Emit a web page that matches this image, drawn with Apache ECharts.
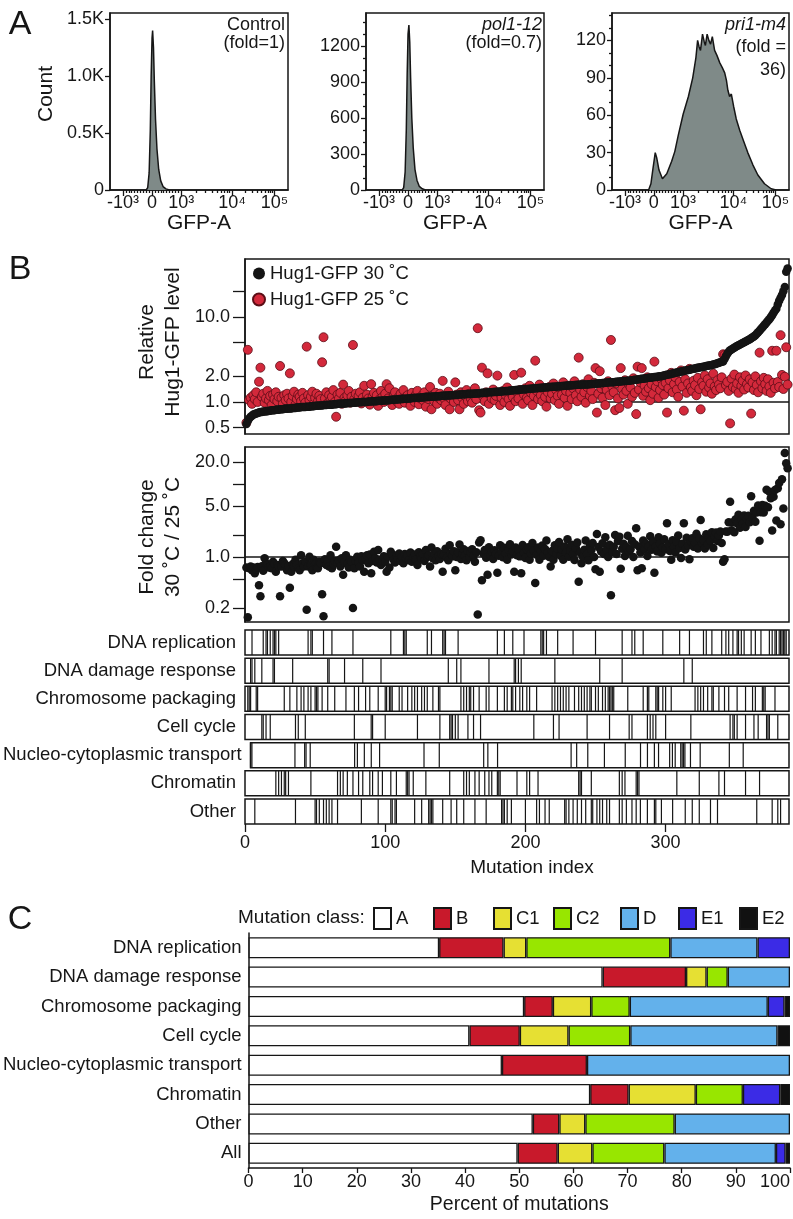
<!DOCTYPE html>
<html><head><meta charset="utf-8">
<script src="https://cdn.jsdelivr.net/npm/echarts@6/dist/echarts.min.js"></script>
<style>html,body{margin:0;padding:0;background:#fff}#c{width:793px;height:1219px}</style>
</head><body><div id="c"></div>
<script>
// ---------------- Panel A: flow histograms (x in biexponential display units, 0 = GFP 0, 1 = 10^3) ----------------
const gfpTickPos = [-1, 0, 1.01, 2.76, 4.22];
const gfpTickLabels = ['-10³', '0', '10³', '10⁴', '10⁵'];
const ctrlX = [-0.2, -0.15, -0.1, -0.06, -0.03, 0.0, 0.02, 0.05, 0.08, 0.12, 0.17, 0.23, 0.3, 0.38, 0.48, 0.6];
const ctrlY = [0, 20, 150, 520, 1000, 1330, 1400, 1250, 950, 620, 360, 180, 80, 30, 10, 0];
const polX = [-0.2, -0.15, -0.1, -0.06, -0.03, 0.0, 0.03, 0.06, 0.09, 0.13, 0.18, 0.24, 0.31, 0.39, 0.49, 0.6];
const polY = [0, 20, 150, 500, 960, 1300, 1375, 1230, 930, 600, 350, 170, 80, 30, 10, 0];
const priX = [-0.18, -0.1, -0.03, 0.05, 0.1, 0.18, 0.3, 0.45, 0.62, 0.73, 0.85, 1.02, 1.2, 1.35, 1.46, 1.52, 1.57, 1.62, 1.69, 1.75, 1.79, 1.85, 1.91, 1.97, 2.03, 2.11, 2.19, 2.29, 2.38, 2.46, 2.52, 2.57, 2.63, 2.69, 2.77, 2.86, 2.98, 3.12, 3.26, 3.44, 3.61, 3.84, 4.07, 4.24];
const priY = [0, 5, 17, 30, 26, 16, 9, 13, 23, 31, 44, 61, 75, 90, 106, 120, 115, 112, 125, 119, 116, 125, 120, 117, 123, 112, 108, 102, 98, 94, 88, 80, 75, 77, 67, 57, 48, 39, 30, 20, 12, 5, 1, 0];
const countTicks1 = [0, 500, 1000, 1500];
const countLabels1 = ['0', '0.5K', '1.0K', '1.5K'];
const countTicks2 = [0, 300, 600, 900, 1200];
const countMinor2 = [100, 200, 400, 500, 700, 800, 1000, 1100, 1300, 1400];
const countTicks3 = [0, 30, 60, 90, 120];
const countMinor3 = [10, 20, 40, 50, 70, 80, 100, 110, 130, 140];

// ---------------- Panel B: per-mutation Hug1-GFP levels (index order) ----------------
const hug30 = [
0.55,0.60,0.64,0.67,0.69,0.71,0.72,0.73,0.74,0.75,0.76,0.76,0.77,0.77,0.78,0.78,0.79,0.79,0.80,0.80,
0.80,0.81,0.81,0.81,0.82,0.82,0.82,0.83,0.83,0.83,0.84,0.84,0.84,0.85,0.85,0.85,0.86,0.86,0.86,0.87,
0.87,0.87,0.87,0.88,0.88,0.88,0.89,0.89,0.89,0.90,0.90,0.90,0.91,0.91,0.91,0.92,0.92,0.92,0.93,0.93,
0.93,0.93,0.94,0.94,0.94,0.95,0.95,0.95,0.95,0.96,0.96,0.96,0.97,0.97,0.97,0.97,0.98,0.98,0.98,0.99,
0.99,0.99,0.99,1.00,1.00,1.00,1.00,1.01,1.01,1.01,1.02,1.02,1.02,1.02,1.03,1.03,1.03,1.04,1.04,1.04,
1.05,1.05,1.05,1.06,1.06,1.06,1.07,1.07,1.07,1.08,1.08,1.08,1.09,1.09,1.09,1.10,1.10,1.10,1.11,1.11,
1.11,1.12,1.12,1.12,1.13,1.13,1.13,1.14,1.14,1.14,1.15,1.15,1.15,1.16,1.16,1.16,1.17,1.17,1.17,1.18,
1.18,1.18,1.19,1.19,1.19,1.20,1.20,1.20,1.21,1.21,1.21,1.22,1.22,1.22,1.23,1.23,1.23,1.24,1.24,1.24,
1.25,1.25,1.25,1.26,1.26,1.26,1.27,1.27,1.28,1.28,1.28,1.29,1.29,1.30,1.30,1.30,1.31,1.31,1.32,1.32,
1.32,1.33,1.33,1.34,1.34,1.35,1.35,1.35,1.36,1.36,1.37,1.37,1.38,1.38,1.39,1.39,1.40,1.40,1.41,1.41,
1.42,1.42,1.43,1.43,1.44,1.44,1.45,1.45,1.46,1.46,1.47,1.47,1.48,1.48,1.49,1.49,1.50,1.50,1.51,1.51,
1.51,1.52,1.52,1.53,1.53,1.54,1.54,1.55,1.55,1.56,1.56,1.56,1.57,1.57,1.58,1.58,1.59,1.59,1.59,1.60,
1.60,1.60,1.61,1.61,1.62,1.62,1.63,1.63,1.64,1.64,1.65,1.65,1.66,1.66,1.67,1.67,1.68,1.69,1.69,1.70,
1.70,1.71,1.71,1.72,1.73,1.73,1.74,1.74,1.75,1.76,1.76,1.77,1.78,1.78,1.79,1.80,1.81,1.82,1.83,1.84,
1.85,1.86,1.87,1.88,1.89,1.90,1.91,1.92,1.93,1.94,1.95,1.96,1.97,1.98,1.99,2.00,2.01,2.03,2.05,2.07,
2.09,2.10,2.12,2.14,2.16,2.18,2.20,2.22,2.24,2.26,2.28,2.30,2.32,2.34,2.36,2.38,
2.40,2.42,2.44,2.46,2.48,2.50,2.52,2.54,2.56,2.58,2.60,2.62,2.64,2.66,2.68,2.70,2.72,2.75,2.78,2.82,2.86,2.90,2.94,2.97,
3.00,3.20,3.45,3.70,3.90,4.05,4.15,4.25,4.35,4.45,4.55,4.65,4.75,4.85,4.95,5.05,5.15,5.25,5.35,5.45,
5.60,5.75,5.90,6.10,6.35,6.60,6.90,7.20,7.50,7.85,8.20,8.60,9.00,9.40,9.90,10.5,11.2,11.9,12.5,14.0,
15.5,16.8,18.1,20.0,22.5,34.0,37.0];
const hug25 = [
0.57,4.10,1.05,1.12,0.95,1.20,1.08,1.30,1.00,1.73,2.53,1.15,1.25,0.98,1.10,1.35,1.05,1.18,0.92,1.22,
1.08,1.30,1.02,1.15,2.65,1.12,0.95,1.20,1.05,1.25,1.10,2.17,1.00,1.18,1.32,0.93,1.08,1.22,1.15,1.02,
1.28,1.10,0.98,4.47,1.20,1.05,1.15,1.32,0.95,1.12,1.25,1.02,1.18,1.08,2.93,5.77,1.10,1.30,0.97,1.20,
1.05,1.15,1.38,1.00,0.67,1.22,1.10,1.28,0.95,1.60,1.12,1.05,1.20,1.35,0.98,1.15,4.68,1.08,1.25,1.02,
1.18,1.30,0.96,1.12,1.55,1.05,1.22,1.10,0.93,1.62,1.15,1.28,1.02,1.20,0.90,1.08,1.35,1.14,1.00,1.25,
1.62,1.10,1.45,1.05,0.92,1.18,1.30,1.02,1.12,0.95,1.25,1.08,1.38,0.98,1.15,1.20,1.05,0.90,1.28,1.12,
1.00,1.22,1.35,0.94,1.10,1.18,1.05,1.30,0.88,1.15,1.08,1.50,0.82,1.20,1.02,1.28,0.95,1.12,1.25,1.05,
1.77,1.10,0.92,1.20,1.32,0.82,1.08,1.15,1.00,1.70,1.22,1.05,0.82,1.30,1.12,0.95,1.18,1.38,1.02,1.25,
1.10,0.98,1.20,1.45,1.08,7.37,0.80,0.75,2.53,1.15,1.02,1.30,2.17,0.95,1.22,1.10,1.40,1.05,1.18,2.04,
1.28,0.92,1.12,1.35,1.00,1.20,1.48,1.08,0.90,1.25,1.15,2.08,1.02,1.30,1.10,1.38,2.21,0.95,1.22,1.45,
1.12,1.05,1.55,1.28,0.92,1.18,3.06,1.35,1.08,1.60,1.20,1.02,1.42,1.15,0.88,1.30,1.50,1.10,1.25,1.65,
1.05,1.38,1.18,0.95,1.48,1.22,1.70,1.12,1.35,0.90,1.55,1.28,1.08,1.45,1.75,1.20,1.02,3.32,1.40,1.15,
1.62,1.30,0.98,1.50,1.85,1.18,1.35,1.08,1.68,2.50,0.75,1.25,2.30,1.45,1.12,1.58,0.92,1.38,1.75,1.20,
5.36,1.52,1.30,0.80,1.65,1.10,0.85,2.50,1.42,1.22,1.80,1.35,0.95,1.60,1.48,1.15,1.90,1.28,0.72,2.60,
1.40,1.70,2.50,1.18,1.55,1.32,1.95,1.45,1.05,1.62,1.25,2.98,1.50,1.75,1.12,1.38,1.85,1.58,1.22,1.68,
0.75,1.45,1.80,2.20,1.30,1.62,1.95,1.40,1.15,1.72,2.35,1.52,0.79,1.85,1.28,1.65,2.45,1.48,1.35,1.78,
1.58,1.20,1.92,1.42,0.82,1.70,1.55,2.05,1.32,1.85,1.48,1.65,1.25,2.15,1.52,1.38,1.80,1.60,1.45,1.95,
3.64,3.55,1.58,1.72,1.35,0.56,1.88,1.50,2.10,1.42,1.65,1.28,1.95,1.55,1.78,1.40,2.05,1.62,1.48,1.85,
0.73,1.70,1.38,2.00,1.58,1.30,3.80,1.75,1.45,1.92,1.62,1.35,1.85,1.52,1.28,4.00,1.68,1.45,4.00,1.72,
1.50,6.10,2.08,1.42,1.98,4.40,1.60];
const foldChange = [
0.72,0.15,0.70,0.74,0.66,0.72,0.60,0.68,0.73,0.41,0.29,0.75,0.65,0.96,0.82,0.78,0.72,0.74,0.70,0.86,
0.80,0.63,0.78,0.74,0.29,0.74,0.88,0.82,0.78,0.66,0.75,0.38,0.63,0.80,0.74,0.92,0.78,0.70,0.66,1.06,
0.82,0.74,0.86,0.19,0.74,1.01,0.78,0.66,0.92,0.80,0.72,0.70,0.86,0.82,0.31,0.155,0.93,0.78,0.88,0.74,
1.06,0.70,0.80,0.88,1.38,0.82,0.90,0.74,0.96,0.57,0.85,1.06,0.80,0.72,0.92,0.86,0.20,0.70,0.88,1.01,
0.84,0.74,1.02,0.90,0.63,0.95,1.06,0.82,1.08,0.60,0.88,1.18,0.96,0.84,1.25,0.92,0.78,0.90,1.02,0.86,
0.63,1.01,0.72,1.18,1.08,0.92,0.84,1.05,0.96,1.12,0.88,1.00,0.82,1.10,0.95,1.04,0.90,1.15,0.86,1.00,
1.08,0.92,0.78,1.16,1.02,0.95,1.10,0.88,1.25,1.00,1.06,0.74,1.35,0.96,1.12,0.90,1.20,1.04,0.94,1.10,
0.63,1.08,1.30,0.98,0.90,1.45,1.12,1.02,1.20,0.66,1.00,1.16,1.48,0.94,1.10,1.28,1.05,0.90,1.20,1.00,
1.14,1.28,1.04,0.86,1.16,0.164,1.58,1.70,0.48,1.12,1.25,0.98,0.57,1.36,1.06,1.18,0.94,1.24,1.10,0.61,
1.04,1.45,1.18,0.99,1.34,1.12,0.92,1.26,1.50,1.08,1.20,0.63,1.35,1.06,1.28,1.02,0.60,1.46,1.14,0.97,
1.27,1.36,0.92,1.12,1.56,1.22,0.44,1.07,1.35,0.92,1.22,1.44,1.04,1.29,1.68,1.15,1.00,0.74,1.21,0.92,
1.45,1.10,1.30,1.61,1.04,1.27,0.92,1.39,1.16,1.75,1.01,1.23,1.47,1.10,0.91,1.33,1.58,0.46,1.15,0.82,
1.01,1.26,1.68,1.10,0.90,1.42,1.24,1.55,1.00,0.68,2.06,1.37,0.63,1.19,1.54,1.10,1.86,1.27,1.00,1.47,
0.30,1.17,1.38,2.00,1.10,1.65,1.90,0.69,1.30,1.52,1.03,1.38,1.96,1.18,1.28,1.65,1.00,1.50,2.47,0.66,
1.39,1.15,0.70,1.68,1.28,1.52,1.03,1.40,1.93,1.26,1.64,0.61,1.38,1.19,1.87,1.52,1.14,1.34,1.75,1.28,
2.90,1.50,1.21,0.92,1.70,1.37,1.15,1.61,1.97,1.33,0.97,1.52,2.90,1.27,1.84,1.44,0.93,1.64,1.81,1.38,
1.57,2.08,1.31,1.80,3.20,1.55,1.70,1.31,2.04,1.47,1.84,1.67,2.18,1.33,1.93,2.17,1.66,1.97,2.24,1.56,
0.86,0.93,2.24,2.21,3.00,5.70,2.33,2.99,2.18,3.28,2.90,3.78,2.52,3.23,2.87,3.70,2.57,3.31,3.68,3.00,
6.80,3.40,4.29,3.04,4.05,5.08,1.67,4.09,5.14,4.06,5.03,8.30,4.78,7.80,6.35,2.30,6.67,8.23,3.15,8.70,
10.3,2.80,11.6,4.60,26.4,19.2,16.4];
const levelTicks = [0.5, 1, 2, 5, 10, 20];
const levelLabels = [0.5, 1, 2, 10];
const foldTicks = [0.2, 0.5, 1, 2, 5, 10, 20];
const foldLabels = [0.2, 1, 5, 20];
const indexTicks = [0, 100, 200, 300];

// mutation indices carrying each annotation
const processNames = ['DNA replication', 'DNA damage response', 'Chromosome packaging', 'Cell cycle', 'Nucleo-cytoplasmic transport', 'Chromatin', 'Other'];
const repIdx = [5,13,15,16,18,20,21,22,24,45,47,48,56,62,77,104,113,114,115,130,133,141,142,143,152,180,185,191,199,211,212,213,215,223,234,250,269,276,278,284,298,310,317,327,329,333,340,343,345,348,351,352,354,356,361,364,368,374,376,378,379,381,382,383,384,385,386];
const dmgIdx = [4,5,7,12,20,21,34,59,60,71,84,97,145,151,154,174,192,193,195,197,221,253,269,313,319];
const pkgIdx = [2,3,4,8,9,28,32,37,40,42,45,47,50,51,52,55,59,64,72,78,81,86,89,95,100,101,103,104,105,110,112,116,119,121,123,126,128,130,134,138,139,154,156,158,160,161,163,167,172,174,180,185,187,190,191,193,196,198,201,203,208,219,221,223,225,227,229,231,235,238,240,242,244,246,247,250,252,255,257,259,260,261,262,263,273,284,287,288,293,294,295,298,300,304,321,323,325,327,330,333,334,338,342,345,351,357,362,364,369,370,371,378];
const cycIdx = [12,13,15,18,36,38,43,78,90,91,100,123,139,146,147,148,150,152,159,163,168,206,220,224,244,260,274,276,287,289,291,293,300,318,346,348,349,351,357,363,366,372,373,374,380];
const nucIdx = [0,1,32,39,40,43,75,77,82,87,93,125,136,168,171,178,231,235,243,255,270,281,286,291,294,302,304,306,310,311,312,313,317,324,345,355];
const chrIdx = [22,24,26,28,29,31,47,66,68,70,73,77,81,84,89,91,95,98,104,108,115,116,117,120,129,146,156,158,160,164,167,171,174,176,180,181,182,194,201,203,209,238,239,240,247,267,269,271,279,280,281,308,324,338,342,357,367];
const othIdx = [7,36,50,51,53,56,58,60,62,66,83,95,104,105,107,108,121,126,131,132,133,134,141,147,151,156,164,172,183,184,185,187,190,200,208,210,214,217,228,229,231,234,237,240,243,247,248,251,253,255,258,260,267,269,272,276,279,282,287,292,293,297,305,314,319,324,332,337,365,376,380,382];
const processIdx = [repIdx, dmgIdx, pkgIdx, cycIdx, nucIdx, chrIdx, othIdx];

// ---------------- Panel C: mutation class percentages ----------------
const cCategories = ['DNA replication', 'DNA damage response', 'Chromosome packaging', 'Cell cycle', 'Nucleo-cytoplasmic transport', 'Chromatin', 'Other', 'All'];
const classNames = ['A', 'B', 'C1', 'C2', 'D', 'E1', 'E2'];
const classColors = ['#ffffff', '#c8192b', '#e6e033', '#98e600', '#63b1eb', '#3b2be6', '#111111'];
const clsA  = [35.2, 65.4, 50.9, 40.8, 46.8, 63.1, 52.5, 49.7];
const clsB  = [11.9, 15.4, 5.3, 9.3, 15.7, 7.1, 4.9, 7.4];
const clsC1 = [4.2, 3.8, 7.1, 9.0, 0, 12.4, 4.8, 6.4];
const clsC2 = [26.6, 3.9, 7.1, 11.4, 0, 8.7, 16.5, 13.3];
const clsD  = [16.1, 11.5, 25.5, 27.2, 37.5, 0, 21.3, 20.6];
const clsE1 = [6.0, 0, 3.1, 0, 0, 6.9, 0, 1.8];
const clsE2 = [0, 0, 1.0, 2.3, 0, 1.8, 0, 0.8];
const classValues = [clsA, clsB, clsC1, clsC2, clsD, clsE1, clsE2];

// ---------------- build ----------------
const FONT = '"Liberation Sans", Arial, Helvetica, sans-serif';
const INK = '#161616';
const grids = [], xAxes = [], yAxes = [], series = [], legends = [], graphics = [];
const noSplit = {show: false};
const axLine = {show: true, onZero: false, lineStyle: {color: INK, width: 1.5}};
const hiddenLine = {show: false, onZero: false};
const tickStyle = {color: INK, width: 1.3};
function grid(o) { grids.push(Object.assign({show: true, borderColor: INK, borderWidth: 1.5, backgroundColor: 'transparent'}, o)); return grids.length - 1; }
function xa(o) { xAxes.push(o); return xAxes.length - 1; }
function ya(o) { yAxes.push(o); return yAxes.length - 1; }
function label(x, y, text, size, opt) {
  opt = opt || {};
  graphics.push({type: 'text', x: x, y: y, rotation: opt.rot || 0, silent: true,
    style: {text: text, fontSize: size, fontFamily: FONT, fill: INK, align: opt.align || 'center', verticalAlign: 'middle',
      fontStyle: opt.italic ? 'italic' : 'normal', lineHeight: opt.lh || Math.round(size * 1.2)}});
}
function gfpLabel(v) { const i = gfpTickPos.findIndex(p => Math.abs(p - v) < 1e-6); return i >= 0 ? gfpTickLabels[i] : ''; }

// minor ticks of the biexponential axis
const gfpMinor = [];
for (let k = 1; k < 10; k++) { gfpMinor.push(gfpTickPos[2] * k / 10, gfpTickPos[0] * k / 10); }
for (let d = 2; d < 4; d++) { for (let k = 2; k < 10; k++) gfpMinor.push(gfpTickPos[d] + Math.log10(k) * (gfpTickPos[d + 1] - gfpTickPos[d])); }

const histPanels = [
  {left: 110, width: 178, xs: ctrlX, ys: ctrlY, ymax: 1553, ticks: countTicks1, labels: countLabels1, minor: [],
   txt: [['Control', false, 25], ['(fold=1)', false, 43]], tx: 285},
  {left: 366, width: 178, xs: polX, ys: polY, ymax: 1475, ticks: countTicks2, labels: countTicks2.map(String), minor: countMinor2,
   txt: [['pol1-12', true, 25], ['(fold=0.7)', false, 43]], tx: 542},
  {left: 612, width: 177, xs: priX, ys: priY, ymax: 142, ticks: countTicks3, labels: countTicks3.map(String), minor: countMinor3,
   txt: [['pri1-m4', true, 25], ['(fold =', false, 47], ['36)', false, 70]], tx: 786}
];
histPanels.forEach(p => {
  const g = grid({left: p.left, top: 13, width: p.width, height: 177});
  const xi = xa({gridIndex: g, type: 'value', position: 'bottom', min: -1.45, max: 4.69, axisLine: axLine, splitLine: noSplit,
    axisTick: {show: true, customValues: gfpTickPos, length: 6, lineStyle: tickStyle},
    axisLabel: {show: true, customValues: gfpTickPos, formatter: gfpLabel, margin: 4, fontSize: 18, color: INK, fontFamily: FONT},
    name: 'GFP-A', nameLocation: 'middle', nameGap: 22, nameTextStyle: {fontSize: 21, color: INK, fontFamily: FONT}});
  xa({gridIndex: g, type: 'value', position: 'bottom', min: -1.45, max: 4.69, axisLine: hiddenLine, splitLine: noSplit,
    axisTick: {show: true, customValues: gfpMinor, length: 3, lineStyle: tickStyle}, axisLabel: {show: false}});
  const yi = ya({gridIndex: g, type: 'value', position: 'left', min: 0, max: p.ymax, axisLine: axLine, splitLine: noSplit,
    axisTick: {show: true, customValues: p.ticks, length: 5, lineStyle: tickStyle},
    axisLabel: {show: true, customValues: p.ticks, formatter: v => p.labels[p.ticks.indexOf(v)] || '', margin: 6, fontSize: 18, color: INK, fontFamily: FONT}});
  if (p.minor.length) {
    ya({gridIndex: g, type: 'value', position: 'left', min: 0, max: p.ymax, axisLine: hiddenLine, splitLine: noSplit,
      axisTick: {show: true, customValues: p.minor, length: 3, lineStyle: tickStyle}, axisLabel: {show: false}});
  }
  series.push({type: 'line', xAxisIndex: xi, yAxisIndex: yi, data: p.xs.map((x, i) => [x, p.ys[i]]), symbol: 'none', showSymbol: false,
    lineStyle: {color: INK, width: 1.5}, areaStyle: {color: '#7f8a88', opacity: 1}, z: 2, silent: true});
  p.txt.forEach(t => label(p.tx, t[2], t[0], 18, {align: 'right', italic: t[1]}));
});
label(46, 94, 'Count', 21, {rot: Math.PI / 2});

// ---- Panel B scatter plots ----
function logPanel(top, lo, hi, ticks, labels) {
  const g = grid({left: 245, top: top, width: 544, height: 175});
  const xi = xa({gridIndex: g, type: 'value', min: 0, max: 388, show: false});
  const yi = ya({gridIndex: g, type: 'log', logBase: 10, min: lo, max: hi, position: 'left', show: false});
  ya({gridIndex: g, type: 'value', position: 'left', min: Math.log10(lo), max: Math.log10(hi), axisLine: axLine, splitLine: noSplit,
    axisTick: {show: true, customValues: ticks.map(v => Math.log10(v)), length: 12, lineStyle: tickStyle},
    axisLabel: {show: true, customValues: labels.map(v => Math.log10(v)), formatter: v => Math.pow(10, v).toFixed(1), margin: 15, fontSize: 18, color: INK, fontFamily: FONT}});
  return [xi, yi];
}
const unityLine = {silent: true, symbol: 'none', z: 1, label: {show: false}, lineStyle: {color: INK, width: 1.5, type: 'solid', opacity: 1}, data: [{yAxis: 1}]};
const [xTop, yTop] = logPanel(259, 0.42, 48, levelTicks, levelLabels);
series.push({name: 'Hug1-GFP 25 ˚C', type: 'scatter', xAxisIndex: xTop, yAxisIndex: yTop, data: hug25.map((v, i) => [i + 1, v]),
  symbolSize: 9, itemStyle: {color: '#d3293b', borderColor: '#5c0d16', borderWidth: 0.8, opacity: 1}, z: 2, markLine: unityLine});
series.push({name: 'Hug1-GFP 30 ˚C', type: 'scatter', xAxisIndex: xTop, yAxisIndex: yTop, data: hug30.map((v, i) => [i + 1, v]),
  symbolSize: 8.5, itemStyle: {color: '#141414', opacity: 1}, z: 3});
legends.push({data: ['Hug1-GFP 30 ˚C', 'Hug1-GFP 25 ˚C'], orient: 'vertical', left: 252, top: 264, padding: 0, itemWidth: 12, itemHeight: 12,
  itemGap: 7, icon: 'circle', selectedMode: false, textStyle: {fontSize: 18.5, color: INK, fontFamily: FONT}});
const [xMid, yMid] = logPanel(447, 0.129, 32, foldTicks, foldLabels);
series.push({type: 'scatter', xAxisIndex: xMid, yAxisIndex: yMid, data: foldChange.map((v, i) => [i + 1, v]),
  symbolSize: 8.5, itemStyle: {color: '#141414', opacity: 1}, z: 3, markLine: unityLine});
label(160, 342, 'Relative\nHug1-GFP level', 21, {rot: Math.PI / 2, lh: 26});
label(160, 537, 'Fold change\n30 ˚C / 25 ˚C', 21, {rot: Math.PI / 2, lh: 26});

// ---- barcode rows ----
function barcodeItem(params, api) {
  const cs = params.coordSys;
  const p = api.coord([api.value(0), 0]);
  return {type: 'line', shape: {x1: p[0], y1: cs.y, x2: p[0], y2: cs.y + cs.height}, style: {stroke: INK, lineWidth: 1.2}};
}
processNames.forEach((name, k) => {
  const last = k === processNames.length - 1;
  const g = grid({left: 245, top: 630 + k * 28.17, width: 544, height: 25});
  const xi = xa(last ? {gridIndex: g, type: 'value', position: 'bottom', min: 0, max: 388, axisLine: hiddenLine, splitLine: noSplit,
      axisTick: {show: true, customValues: indexTicks, length: 8, lineStyle: tickStyle},
      axisLabel: {show: true, customValues: indexTicks, margin: 10, fontSize: 18, color: INK, fontFamily: FONT},
      name: 'Mutation index', nameLocation: 'middle', nameGap: 34, nameTextStyle: {fontSize: 19, color: INK, fontFamily: FONT, padding: [0, 0, 0, 30]}}
    : {gridIndex: g, type: 'value', min: 0, max: 388, show: false});
  const yi = ya({gridIndex: g, type: 'category', data: [name], position: 'left', axisLine: hiddenLine, axisTick: {show: false},
    axisLabel: {fontSize: 18.5, color: INK, margin: 9, fontFamily: FONT}, splitLine: noSplit});
  series.push({type: 'custom', xAxisIndex: xi, yAxisIndex: yi, data: processIdx[k].map(v => [v, 0]), encode: {x: 0, y: 1},
    renderItem: barcodeItem, silent: true, z: 2});
});

// ---- Panel C stacked bars ----
const gC = grid({left: 248, top: 933, width: 542, height: 235, show: false});
const xC = xa({gridIndex: gC, type: 'value', position: 'bottom', min: 0, max: 100, interval: 10, axisLine: axLine, splitLine: noSplit,
  axisTick: {show: true, length: 5, lineStyle: tickStyle},
  axisLabel: {margin: 5, fontSize: 18, color: INK, fontFamily: FONT, alignMaxLabel: 'right'},
  name: 'Percent of mutations', nameLocation: 'middle', nameGap: 27, nameTextStyle: {fontSize: 19.5, color: INK, fontFamily: FONT}});
const yC = ya({gridIndex: gC, type: 'category', inverse: true, data: cCategories, position: 'left', axisLine: axLine, axisTick: {show: false},
  axisLabel: {fontSize: 18.5, color: INK, margin: 7, fontFamily: FONT}, splitLine: noSplit});
classNames.forEach((c, j) => {
  series.push({name: c, type: 'bar', stack: 'cls', xAxisIndex: xC, yAxisIndex: yC, barWidth: 21,
    data: classValues[j].map(v => v === 0 ? null : v),
    itemStyle: {color: classColors[j], borderColor: INK, borderWidth: 1.3}, silent: true});
});
const legendLefts = [373, 433, 493, 553, 620, 678, 739];
classNames.forEach((c, j) => {
  legends.push({data: [c], left: legendLefts[j], top: 907, padding: 0, itemWidth: 17, itemHeight: 21, icon: 'rect', selectedMode: false,
    textStyle: {fontSize: 18.5, color: INK, fontFamily: FONT}});
});
label(238, 918, 'Mutation class:', 19, {align: 'left'});

// panel letters
label(20, 25, 'A', 34);
label(20, 270, 'B', 34);
label(20, 920, 'C', 34);

const chart = echarts.init(document.getElementById('c'), null, {renderer: 'canvas'});
chart.setOption({
  animation: false, backgroundColor: '#ffffff',
  textStyle: {fontFamily: FONT, color: INK},
  grid: grids, xAxis: xAxes, yAxis: yAxes, series: series, legend: legends,
  graphic: {elements: graphics}
});
</script></body></html>
